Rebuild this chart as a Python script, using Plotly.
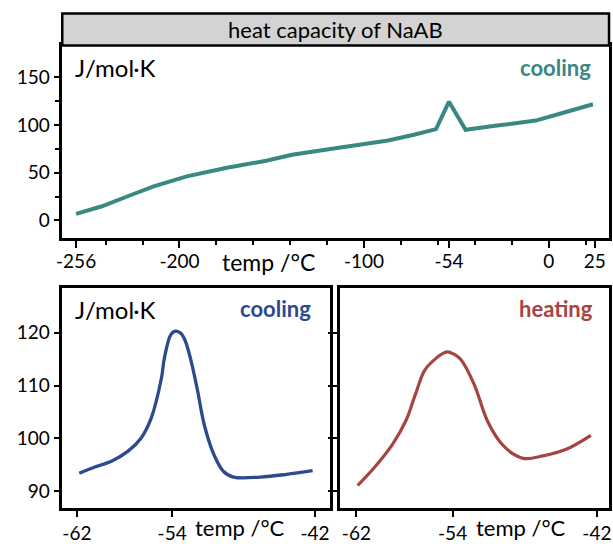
import plotly.graph_objects as go

# ---- data ----
temp_full = [-256, -242, -228, -214, -196, -175, -153, -139, -121, -103, -87, -73, -61, -54, -45, -29, -7, 7, 24]
cp_full_cooling = [7.0, 14.9, 25.4, 35.8, 46.2, 55.0, 62.6, 68.9, 74.1, 79.3, 83.8, 89.8, 95.7, 124.5, 95.0, 99.2, 104.7, 112.4, 121.8]

temp_cool = [-61.8, -60.5, -59.1, -57.7, -56.6, -55.75, -54.9, -54.65, -54.1, -53.68, -53.27, -52.9, -52.4, -51.9,
             -51.3, -50.5, -49.7, -48.85, -46.6, -44.4, -42.2]
cp_cool = [93.4, 94.6, 95.7, 97.6, 100.1, 103.9, 111.4, 115.2, 119.7, 120.3, 119.9, 118.5, 114.6, 109.5,
           102.6, 97.0, 93.8, 92.7, 92.7, 93.2, 93.9]

temp_heat = [-61.9, -60.4, -59.0, -57.9, -57.1, -56.3, -55.2, -54.8, -54.4, -53.85, -53.3, -52.2, -51.1, -50.0,
             -48.9, -48.0, -46.5, -44.6, -42.5]
cp_heat = [91.1, 94.8, 98.9, 103.3, 108.3, 113.0, 115.5, 116.1, 116.4, 115.9, 114.9, 110.2, 103.3, 99.2,
           97.0, 96.2, 96.7, 97.9, 100.6]

top_xticks = [-256, -200, -100, -54, 0, 25]
top_xlabels = ["-256", "-200", "-100", "-54", "0", "25"]
top_xminor = [-240, -220, -180, -160, -140, -120, -80, -60, -40, -20, 20]
top_yticks = [0, 50, 100, 150]
top_ylabels = ["0", "50", "100", "150"]
top_yminor = [25, 75, 125]
zoom_xticks = [-62, -54, -42]
zoom_xlabels = ["-62", "-54", "-42"]
zoom_yticks = [90, 100, 110, 120]
zoom_ylabels = ["90", "100", "110", "120"]

TEAL = "#3b8783"
BLUE = "#2c4a8e"
RED = "#a64444"
FONT = "Lato"
W, H = 613, 544

def px(x):
    return x / W

def py(y):
    return 1 - y / H

fig = go.Figure()
fig.add_trace(go.Scatter(x=temp_full, y=cp_full_cooling, mode="lines",
                         line=dict(color=TEAL, width=4), xaxis="x", yaxis="y"))
fig.add_trace(go.Scatter(x=temp_cool, y=cp_cool, mode="lines",
                         line=dict(color=BLUE, width=3.3, shape="spline", smoothing=1.0),
                         xaxis="x2", yaxis="y2"))
fig.add_trace(go.Scatter(x=temp_heat, y=cp_heat, mode="lines",
                         line=dict(color=RED, width=3.2, shape="spline", smoothing=1.0),
                         xaxis="x3", yaxis="y3"))

axis_common = dict(showline=True, mirror=True, linecolor="black", linewidth=2.5,
                   ticks="outside", tickcolor="black", tickwidth=2, showgrid=False,
                   zeroline=False, ticklabeloverflow="allow",
                   tickfont=dict(family=FONT, size=19, color="black"))

top_dom_x = [px(57), px(611)]
top_dom_y = [py(239), py(45.7)]
bl_dom_x = [px(57), px(328)]
br_dom_x = [px(338), px(611)]
bot_dom_y = [py(510.5), py(289.5)]

fig.update_layout(
    width=W, height=H, margin=dict(l=0, r=0, t=0, b=0),
    paper_bgcolor="white", plot_bgcolor="white", showlegend=False,
    xaxis=dict(domain=top_dom_x, anchor="y", range=[-263.5, 32.7],
               tickmode="array", tickvals=top_xticks, ticktext=top_xlabels, ticklen=8,
               ticklabelstandoff=-3,
               minor=dict(tickvals=top_xminor, ticks="outside", ticklen=5, tickwidth=2, tickcolor="black"),
               **axis_common),
    yaxis=dict(domain=top_dom_y, anchor="x", range=[-18, 183.4],
               tickmode="array", tickvals=top_yticks, ticktext=top_ylabels, ticklen=6,
               minor=dict(tickvals=top_yminor, ticks="outside", ticklen=5, tickwidth=2, tickcolor="black"),
               **axis_common),
    xaxis2=dict(domain=bl_dom_x, anchor="y2", range=[-63.23, -40.76],
                tickmode="array", tickvals=zoom_xticks, ticktext=zoom_xlabels, ticklen=7, **axis_common),
    yaxis2=dict(domain=bot_dom_y, anchor="x2", range=[86.9, 128.5],
                tickmode="array", tickvals=zoom_yticks, ticktext=zoom_ylabels, ticklen=6, **axis_common),
    xaxis3=dict(domain=br_dom_x, anchor="y3", range=[-63.4, -40.99],
                tickmode="array", tickvals=zoom_xticks, ticktext=zoom_xlabels, ticklen=7, **axis_common),
    yaxis3=dict(domain=bot_dom_y, anchor="x3", range=[86.9, 128.5],
                tickmode="array", tickvals=zoom_yticks, ticklen=9,
                showticklabels=False, **axis_common),
)

# title strip
fig.add_shape(type="rect", xref="paper", yref="paper",
              x0=px(57), x1=px(611), y0=py(45.7), y1=py(13.5),
              fillcolor="#d3d3d3", line=dict(color="black", width=2.5), layer="above")

def txt(text, x, y, size, color="black", bold=False, xanchor="center"):
    t = f"<b>{text}</b>" if bold else text
    fig.add_annotation(text=t, x=px(x), y=py(y), xref="paper", yref="paper",
                       xanchor=xanchor, yanchor="middle", showarrow=False,
                       font=dict(family=FONT, size=size, color=color))

txt("heat capacity of NaAB", 334, 29.5, 22)
txt("J/mol·K", 68, 68, 24, xanchor="left")
txt("cooling", 595, 68, 22, TEAL, bold=True, xanchor="right")
txt("temp /°C", 266, 263, 23)

txt("J/mol·K", 68, 311, 24, xanchor="left")
txt("cooling", 311, 310, 22, BLUE, bold=True, xanchor="right")
txt("heating", 597, 310, 22, RED, bold=True, xanchor="right")
txt("temp /°C", 237, 530, 22)
txt("temp /°C", 522, 530, 22)

fig.write_html("out.html")
